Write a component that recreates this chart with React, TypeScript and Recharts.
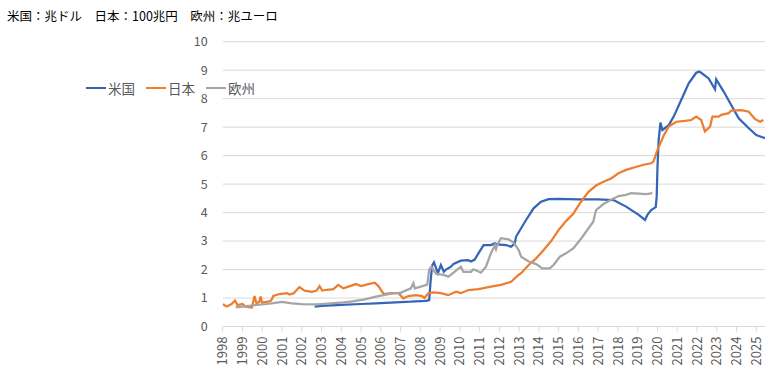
import React from 'react';
import { LineChart, Line, XAxis, YAxis, CartesianGrid, Legend } from 'recharts';

const title = '米国：兆ドル　日本：100兆円　欧州：兆ユーロ';
const seriesNames = ['米国', '日本', '欧州'];
const yearTicks = [1998, 1999, 2000, 2001, 2002, 2003, 2004, 2005, 2006, 2007, 2008, 2009, 2010, 2011, 2012, 2013, 2014, 2015, 2016, 2017, 2018, 2019, 2020, 2021, 2022, 2023, 2024, 2025];
const yTicks = [0, 1, 2, 3, 4, 5, 6, 7, 8, 9, 10];

const usDates = [2002.65, 2003.0, 2004.0, 2005.0, 2005.75, 2006.5, 2007.0, 2007.5, 2008.28, 2008.45, 2008.52, 2008.6, 2008.69, 2008.89, 2009.04, 2009.19, 2009.3, 2009.55, 2009.68, 2010.05, 2010.43, 2010.56, 2010.75, 2010.94, 2011.2, 2011.57, 2011.77, 2011.9, 2012.33, 2012.59, 2012.78, 2012.84, 2013.35, 2013.73, 2014.11, 2014.49, 2015.0, 2016.0, 2017.0, 2017.78, 2018.41, 2019.05, 2019.37, 2019.49, 2019.68, 2019.91, 2019.96, 2020.0, 2020.06, 2020.15, 2020.25, 2020.57, 2020.82, 2021.2, 2021.58, 2021.96, 2022.1, 2022.21, 2022.59, 2022.91, 2022.97, 2023.35, 2023.73, 2024.11, 2024.62, 2025.0, 2025.44];
const usValues = [0.70, 0.72, 0.76, 0.79, 0.81, 0.84, 0.86, 0.87, 0.90, 0.93, 1.6, 2.15, 2.25, 1.87, 2.16, 1.92, 2.0, 2.10, 2.2, 2.31, 2.33, 2.28, 2.35, 2.57, 2.86, 2.86, 2.92, 2.88, 2.86, 2.80, 2.92, 3.15, 3.74, 4.15, 4.38, 4.47, 4.48, 4.46, 4.46, 4.44, 4.21, 3.92, 3.74, 3.92, 4.09, 4.19, 4.56, 5.61, 6.55, 7.16, 6.9, 7.07, 7.37, 7.95, 8.54, 8.91, 8.95, 8.91, 8.71, 8.33, 8.68, 8.25, 7.78, 7.31, 6.96, 6.72, 6.61];

const jpDates = [1998.0, 1998.2, 1998.45, 1998.62, 1998.75, 1999.0, 1999.16, 1999.48, 1999.61, 1999.71, 1999.85, 1999.92, 1999.99, 2000.3, 2000.45, 2000.56, 2000.87, 2001.25, 2001.38, 2001.6, 2001.82, 2001.89, 2002.14, 2002.52, 2002.75, 2002.9, 2003.03, 2003.28, 2003.6, 2003.85, 2004.1, 2004.36, 2004.74, 2004.99, 2005.37, 2005.69, 2005.88, 2006.07, 2006.15, 2006.51, 2006.89, 2007.14, 2007.4, 2007.78, 2008.09, 2008.2, 2008.41, 2008.66, 2009.04, 2009.42, 2009.8, 2010.05, 2010.43, 2010.94, 2011.2, 2011.57, 2012.08, 2012.59, 2012.97, 2013.1, 2013.48, 2013.86, 2014.24, 2014.62, 2015.0, 2015.37, 2015.75, 2016.13, 2016.51, 2016.89, 2017.27, 2017.65, 2018.03, 2018.41, 2018.9, 2019.3, 2019.68, 2019.8, 2020.0, 2020.31, 2020.57, 2020.95, 2021.4, 2021.71, 2021.96, 2022.21, 2022.4, 2022.55, 2022.66, 2022.78, 2023.1, 2023.23, 2023.6, 2023.73, 2024.24, 2024.62, 2024.94, 2025.19, 2025.36];
const jpValues = [0.78, 0.70, 0.79, 0.91, 0.75, 0.79, 0.70, 0.67, 1.07, 0.81, 0.87, 1.05, 0.84, 0.87, 0.91, 1.07, 1.14, 1.17, 1.12, 1.17, 1.34, 1.38, 1.26, 1.22, 1.26, 1.42, 1.26, 1.29, 1.31, 1.46, 1.34, 1.40, 1.49, 1.42, 1.49, 1.54, 1.42, 1.22, 1.14, 1.17, 1.17, 0.99, 1.07, 1.10, 1.07, 1.0, 1.17, 1.20, 1.17, 1.10, 1.22, 1.17, 1.28, 1.31, 1.35, 1.40, 1.46, 1.57, 1.81, 1.87, 2.16, 2.39, 2.69, 3.0, 3.39, 3.70, 3.97, 4.38, 4.73, 4.95, 5.08, 5.20, 5.38, 5.50, 5.6, 5.68, 5.73, 5.8, 6.2, 6.7, 7.02, 7.19, 7.22, 7.25, 7.37, 7.25, 6.85, 6.95, 7.02, 7.37, 7.37, 7.43, 7.49, 7.58, 7.6, 7.54, 7.28, 7.19, 7.25];

const euDates = [1998.66, 1999.0, 1999.3, 1999.6, 2000.24, 2000.75, 2001.0, 2001.5, 2002.0, 2002.77, 2003.28, 2004.0, 2004.48, 2005.2, 2005.75, 2006.51, 2007.02, 2007.52, 2007.65, 2007.72, 2008.03, 2008.35, 2008.45, 2008.56, 2008.79, 2009.17, 2009.42, 2009.68, 2010.05, 2010.18, 2010.56, 2010.69, 2011.07, 2011.32, 2011.57, 2011.7, 2011.77, 2011.83, 2011.89, 2012.08, 2012.46, 2012.72, 2012.97, 2013.1, 2013.48, 2013.86, 2014.17, 2014.55, 2014.74, 2015.06, 2015.37, 2015.75, 2016.13, 2016.51, 2016.75, 2016.89, 2017.27, 2017.65, 2018.03, 2018.41, 2018.67, 2019.43, 2019.74];
const euValues = [0.67, 0.70, 0.72, 0.75, 0.79, 0.84, 0.86, 0.81, 0.79, 0.78, 0.80, 0.84, 0.87, 0.95, 1.05, 1.15, 1.19, 1.34, 1.52, 1.34, 1.40, 1.47, 2.0, 2.1, 1.85, 1.81, 1.75, 1.89, 2.1, 1.92, 1.92, 2.01, 1.89, 2.1, 2.57, 2.75, 2.86, 2.72, 2.86, 3.1, 3.06, 2.95, 2.69, 2.45, 2.28, 2.19, 2.04, 2.04, 2.16, 2.45, 2.57, 2.75, 3.08, 3.45, 3.68, 4.09, 4.30, 4.45, 4.58, 4.62, 4.68, 4.65, 4.68];

const colors = ['#3565B8', '#ED7D31', '#A5A5A5'];

const toData = (xs: number[], ys: number[]) => xs.map((x, i) => ({ x, y: ys[i] }));
const usData = toData(usDates, usValues);
const jpData = toData(jpDates, jpValues);
const euData = toData(euDates, euValues);

const FONT = '"Noto Sans CJK JP", "Noto Sans", sans-serif';
const TEXT = '#595959';

const XTick = (props: any) => {
  const { x, y, payload } = props;
  return (
    <text x={x} y={y} transform={`rotate(-90 ${x} ${y})`} textAnchor="end" dy="0.35em" fill={TEXT} fontSize={13} fontFamily={FONT}>
      {payload.value}
    </text>
  );
};

const renderLegend = () => (
  <div style={{ display: 'flex', alignItems: 'center', fontFamily: FONT, fontSize: 13.5, color: TEXT, whiteSpace: 'nowrap' }}>
    {seriesNames.map((n, i) => (
      <div key={n} style={{ display: 'flex', alignItems: 'center', marginRight: 11 }}>
        <div style={{ width: 20, height: 2.5, background: colors[i], marginRight: 2 }} />
        <span>{n}</span>
      </div>
    ))}
  </div>
);

export default function App() {
  return (
    <div style={{ position: 'relative', width: 774, height: 371, background: '#fff', fontFamily: FONT }}>
      <style>{`body{margin:0}`}</style>
      <div style={{ position: 'absolute', left: 7, top: 8, fontSize: 12.5, lineHeight: '16px', color: '#000', whiteSpace: 'nowrap' }}>{title}</div>
      <LineChart width={774} height={371} margin={{ top: 41.7, right: 9, bottom: 0, left: 0 }}>
        <CartesianGrid horizontal vertical={false} stroke="#D9D9D9" />
        <XAxis
          type="number"
          dataKey="x"
          domain={[1998, 2025.44]}
          ticks={yearTicks}
          interval={0}
          allowDataOverflow
          height={44.5}
          stroke="#D9D9D9"
          tickSize={5}
          tickMargin={5}
          tick={<XTick />}
        />
        <YAxis
          type="number"
          domain={[0, 10]}
          ticks={yTicks}
          width={42.7}
          axisLine={false}
          tickLine={false}
          tickMargin={9}
          tick={{ fill: TEXT, fontSize: 12.5, fontFamily: FONT }}
        />
        <Legend
          verticalAlign="middle"
          align="left"
          layout="horizontal"
          content={renderLegend}
          wrapperStyle={{ position: 'absolute', left: 86, top: 78, width: 'auto' }}
        />
        <Line data={usData} dataKey="y" name={seriesNames[0]} stroke={colors[0]} strokeWidth={2.25} dot={false} isAnimationActive={false} type="linear" />
        <Line data={jpData} dataKey="y" name={seriesNames[1]} stroke={colors[1]} strokeWidth={2.25} dot={false} isAnimationActive={false} type="linear" />
        <Line data={euData} dataKey="y" name={seriesNames[2]} stroke={colors[2]} strokeWidth={2.25} dot={false} isAnimationActive={false} type="linear" />
      </LineChart>
    </div>
  );
}
